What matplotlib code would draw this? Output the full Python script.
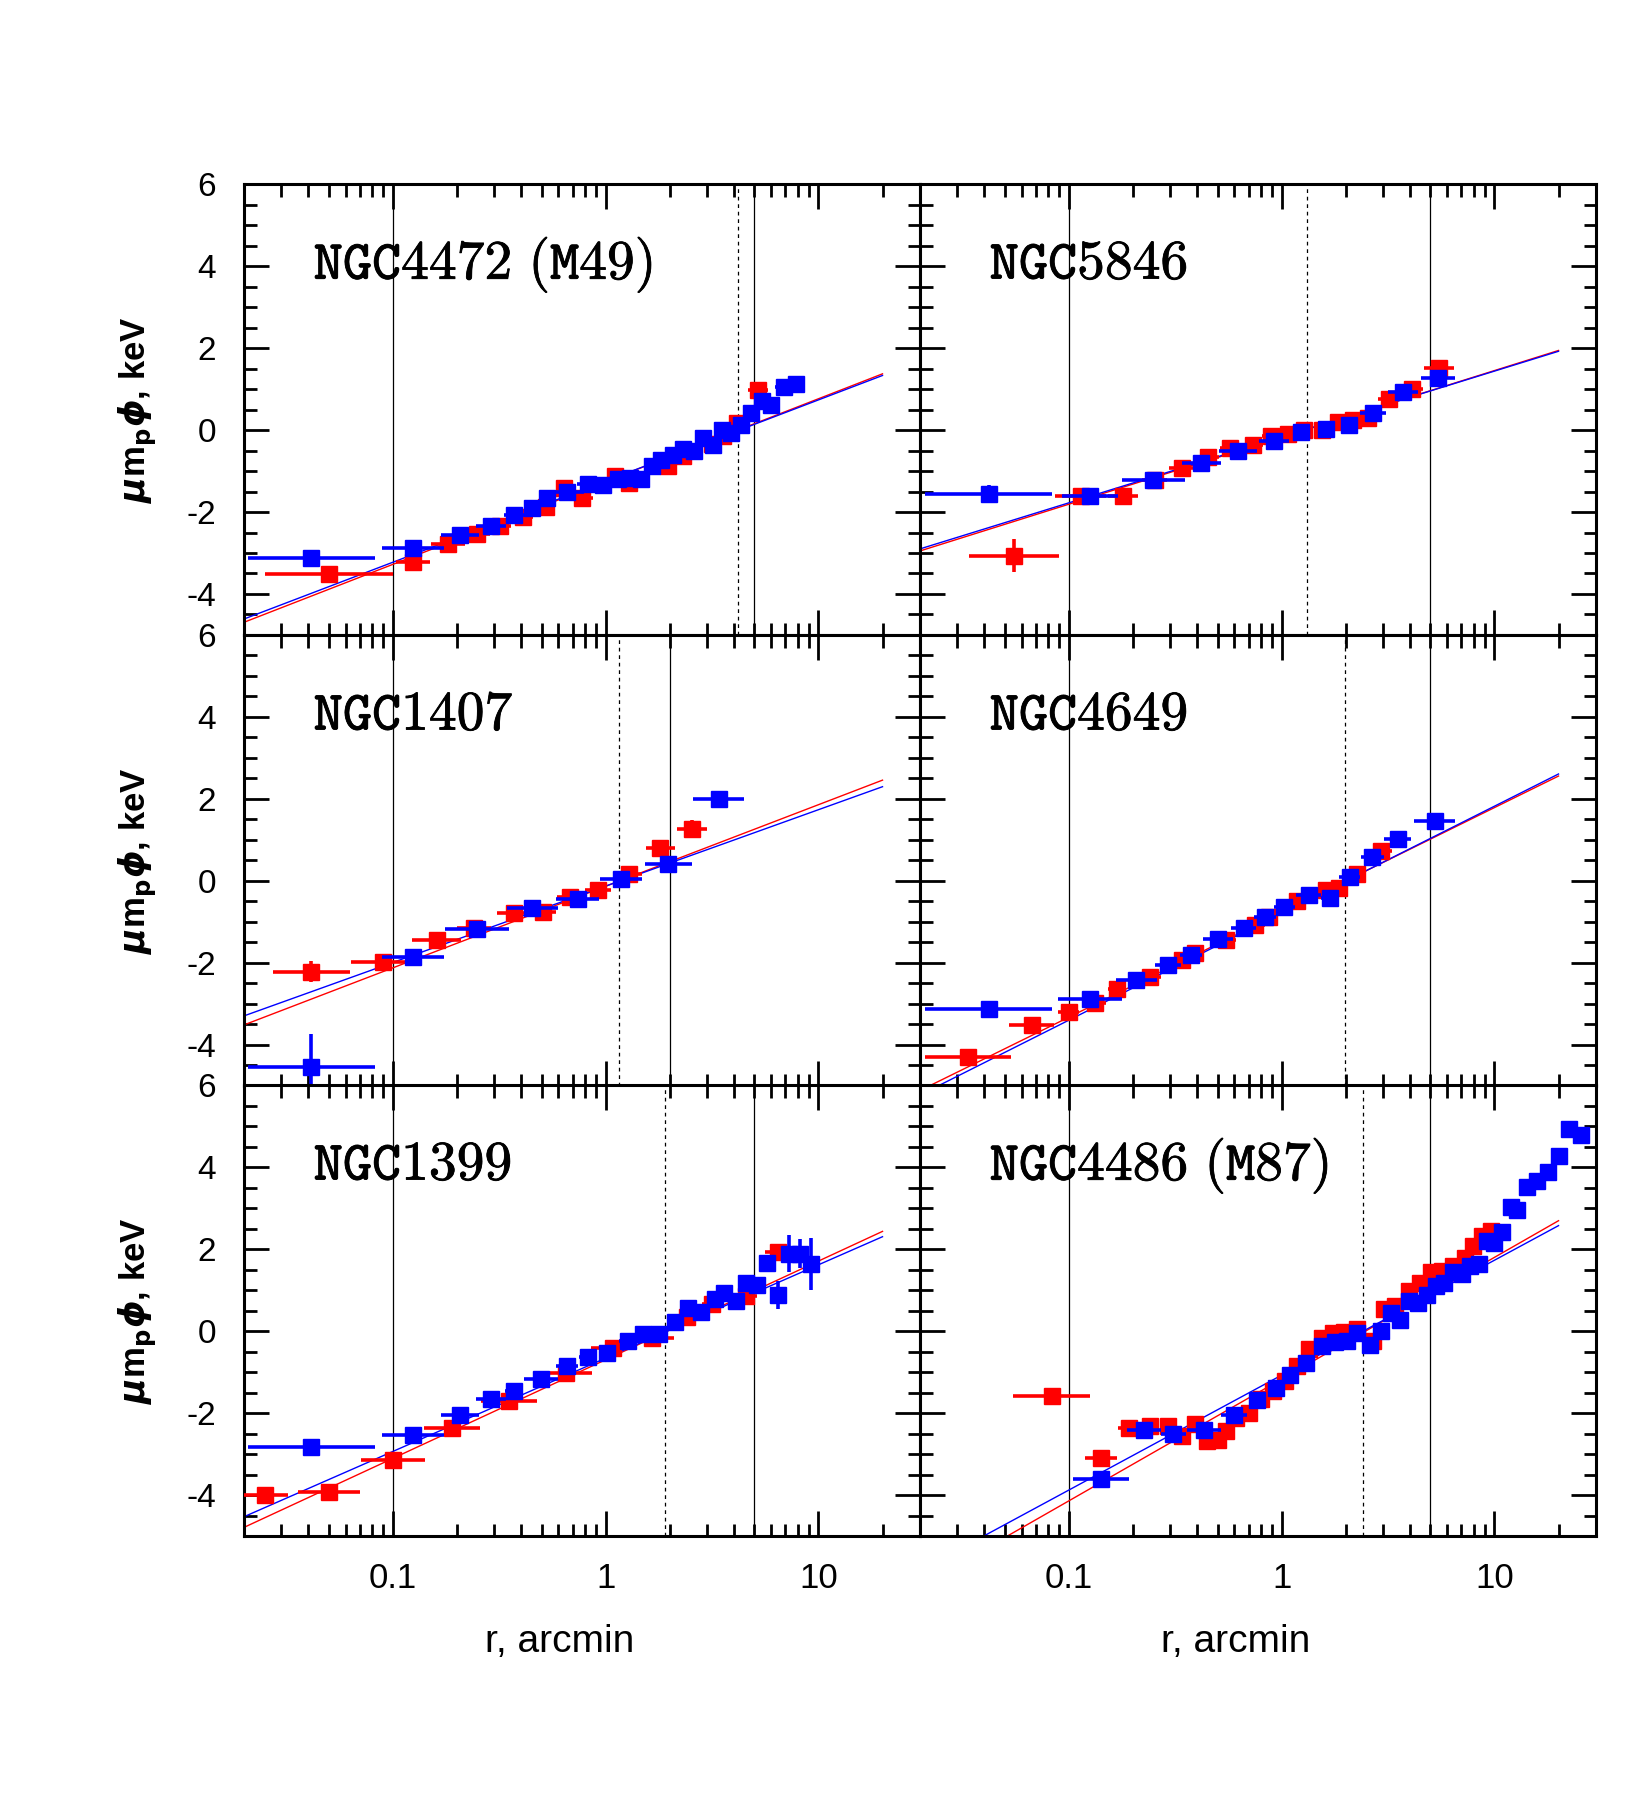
import numpy as np
import matplotlib
matplotlib.use('Agg')
import matplotlib.pyplot as plt
import matplotlib.ticker as ticker
import matplotlib.patheffects as pe

plt.rcParams['font.family'] = ['Liberation Sans', 'DejaVu Sans']
plt.rcParams['axes.unicode_minus'] = False

# ---- datos ----
# r en arcmin, phi en keV, dx = semiancho de la barra en x (dex), dy = barra en y (keV)

# NGC4472 (M49)
m49_b_r = [0.0415, 0.124, 0.207, 0.289, 0.373, 0.453, 0.533, 0.658, 0.826, 0.977, 1.14, 1.30, 1.47, 1.66,
           1.82, 2.08, 2.32, 2.59, 2.88, 3.20, 3.54, 3.90, 4.33, 4.82, 5.41, 6.01, 6.88, 7.83]
m49_b_phi = [-3.13, -2.88, -2.55, -2.33, -2.07, -1.90, -1.66, -1.50, -1.31, -1.33, -1.20, -1.17, -1.20, -0.89,
             -0.72, -0.60, -0.46, -0.52, -0.20, -0.36, 0.01, -0.07, 0.13, 0.41, 0.70, 0.61, 1.05, 1.11]
m49_b_dx = [0.30, 0.146, 0.09, 0.07, 0.05, 0.04, 0.04, 0.08, 0.05, 0.03, 0.03, 0.03, 0.03, 0.03,
            0.03, 0.03, 0.03, 0.03, 0.03, 0.03, 0.03, 0.03, 0.03, 0.03, 0.03, 0.03, 0.04, 0.04]
m49_b_dy = [0.05] * 28
m49_r_r = [0.050, 0.124, 0.182, 0.249, 0.320, 0.407, 0.523, 0.64, 0.778, 1.11, 1.29, 1.96, 2.32, 3.17,
           3.57, 4.13, 5.20]
m49_r_phi = [-3.51, -3.21, -2.78, -2.54, -2.34, -2.11, -1.88, -1.42, -1.66, -1.13, -1.29, -0.89, -0.64, -0.33,
             -0.15, 0.17, 0.97]
m49_r_dx = [0.30, 0.08, 0.08, 0.06, 0.05, 0.05, 0.04, 0.04, 0.05, 0.04, 0.04, 0.04, 0.04, 0.04, 0.03, 0.03, 0.045]
m49_r_dy = [0.05] * 17

# NGC5846
n5846_b_r = [0.042, 0.126, 0.25, 0.42, 0.624, 0.921, 1.24, 1.62, 2.08, 2.69, 3.73, 5.42]
n5846_b_phi = [-1.55, -1.60, -1.23, -0.81, -0.52, -0.28, -0.05, 0.03, 0.11, 0.41, 0.92, 1.27]
n5846_b_dx = [0.30, 0.13, 0.15, 0.09, 0.09, 0.07, 0.04, 0.04, 0.04, 0.06, 0.07, 0.08]
n5846_b_dy = [0.22, 0.05, 0.05, 0.05, 0.05, 0.05, 0.05, 0.05, 0.05, 0.05, 0.05, 0.05]
n5846_r_r = [0.0552, 0.114, 0.18, 0.253, 0.341, 0.451, 0.574, 0.731, 0.887, 1.07, 1.27, 1.55, 1.85, 2.16,
             2.54, 3.19, 4.11, 5.49]
n5846_r_phi = [-3.07, -1.62, -1.60, -1.21, -0.93, -0.66, -0.44, -0.36, -0.15, -0.09, 0.01, 0.01, 0.20, 0.25,
               0.29, 0.76, 1.00, 1.51]
n5846_r_dx = [0.21, 0.12, 0.07, 0.06, 0.06, 0.05, 0.05, 0.05, 0.04, 0.04, 0.04, 0.04, 0.04, 0.04,
              0.04, 0.05, 0.05, 0.07]
n5846_r_dy = [0.40] + [0.05] * 17

# NGC1407
n1407_b_r = [0.0415, 0.124, 0.248, 0.453, 0.738, 1.18, 1.97, 3.40]
n1407_b_phi = [-4.53, -1.85, -1.18, -0.67, -0.44, 0.05, 0.41, 1.99]
n1407_b_dx = [0.30, 0.146, 0.15, 0.12, 0.10, 0.10, 0.11, 0.12]
n1407_b_dy = [0.80, 0.05, 0.05, 0.05, 0.05, 0.05, 0.05, 0.05]
n1407_r_r = [0.0415, 0.090, 0.161, 0.24, 0.373, 0.51, 0.68, 0.92, 1.29, 1.81, 2.55]
n1407_r_phi = [-2.21, -1.97, -1.44, -1.15, -0.79, -0.75, -0.40, -0.22, 0.17, 0.81, 1.28]
n1407_r_dx = [0.18, 0.15, 0.115, 0.08, 0.08, 0.06, 0.06, 0.06, 0.06, 0.07, 0.07]
n1407_r_dy = [0.25, 0.05, 0.05, 0.05, 0.05, 0.05, 0.05, 0.05, 0.05, 0.10, 0.20]

# NGC4649
n4649_b_r = [0.042, 0.126, 0.208, 0.292, 0.375, 0.501, 0.663, 0.836, 1.03, 1.34, 1.68, 2.09, 2.67, 3.51, 5.24]
n4649_b_phi = [-3.11, -2.89, -2.41, -2.05, -1.80, -1.42, -1.15, -0.89, -0.63, -0.34, -0.42, 0.09, 0.58, 1.02, 1.46]
n4649_b_dx = [0.30, 0.15, 0.095, 0.06, 0.05, 0.07, 0.06, 0.05, 0.05, 0.06, 0.04, 0.05, 0.055, 0.063, 0.096]
n4649_b_dy = [0.05] * 15
n4649_r_r = [0.0336, 0.067, 0.1, 0.133, 0.168, 0.241, 0.340, 0.393, 0.547, 0.748, 0.877, 1.18, 1.62, 1.87,
             2.27, 2.94]
n4649_r_phi = [-4.30, -3.51, -3.19, -2.98, -2.63, -2.33, -1.93, -1.75, -1.44, -1.07, -0.87, -0.50, -0.22, -0.18,
               0.17, 0.74]
n4649_r_dx = [0.20, 0.105, 0.05, 0.05, 0.04, 0.05, 0.05, 0.04, 0.05, 0.05, 0.04, 0.04, 0.04, 0.04, 0.04, 0.05]
n4649_r_dy = [0.05] * 16

# NGC1399
n1399_b_r = [0.0415, 0.124, 0.207, 0.289, 0.370, 0.498, 0.658, 0.826, 1.02, 1.27, 1.50, 1.78, 2.11, 2.43,
             2.81, 3.25, 3.61, 4.09, 4.55, 5.15, 5.76, 6.49, 7.28, 8.17, 9.22]
n1399_b_phi = [-2.84, -2.54, -2.06, -1.67, -1.47, -1.18, -0.86, -0.63, -0.53, -0.24, -0.08, -0.07, 0.23, 0.55,
               0.47, 0.79, 0.92, 0.73, 1.18, 1.12, 1.67, 0.88, 1.89, 1.89, 1.63]
n1399_b_dx = [0.30, 0.146, 0.09, 0.07, 0.04, 0.08, 0.05, 0.04, 0.04, 0.04, 0.03, 0.03, 0.03, 0.03,
              0.03, 0.03, 0.03, 0.03, 0.03, 0.03, 0.03, 0.02, 0.02, 0.02, 0.02]
n1399_b_dy = [0.05] * 21 + [0.35, 0.45, 0.35, 0.63]
n1399_r_r = [0.0251, 0.050, 0.1, 0.19, 0.352, 0.649, 1.08, 1.66, 2.41, 3.17, 4.59, 6.43]
n1399_r_phi = [-4.01, -3.92, -3.14, -2.37, -1.70, -1.02, -0.41, -0.16, 0.33, 0.65, 0.86, 1.93]
n1399_r_dx = [0.11, 0.146, 0.15, 0.13, 0.133, 0.123, 0.10, 0.10, 0.05, 0.05, 0.05, 0.06]
n1399_r_dy = [0.05] * 12

# NGC4486 (M87)
m87_b_r = [0.1415, 0.226, 0.31, 0.434, 0.597, 0.767, 0.94, 1.10, 1.30, 1.54, 1.79, 2.02, 2.27, 2.59, 2.94,
           3.27, 3.59, 3.96, 4.36, 4.80, 5.29, 5.82, 6.41, 7.06, 7.71, 8.49, 9.21, 10.0, 10.8, 11.9, 12.8,
           14.2, 15.9, 17.9, 20.0, 22.5, 25.4]
m87_b_phi = [-3.61, -2.41, -2.51, -2.41, -2.04, -1.69, -1.39, -1.08, -0.77, -0.37, -0.27, -0.24, -0.04, -0.35,
             0.00, 0.45, 0.27, 0.73, 0.69, 0.88, 1.10, 1.18, 1.43, 1.39, 1.59, 1.63, 2.20, 2.15, 2.41, 3.02, 2.94,
             3.52, 3.67, 3.87, 4.27, 4.93, 4.79]
m87_b_dx = [0.13, 0.08, 0.06, 0.08, 0.06] + [0.03] * 32
m87_b_dy = [0.05] * 37
m87_r_r = [0.0832, 0.1415, 0.191, 0.241, 0.292, 0.34, 0.39, 0.444, 0.501, 0.547, 0.608, 0.703, 0.797, 0.908,
           1.04, 1.18, 1.34, 1.54, 1.74, 1.97, 2.27, 2.69, 3.04, 3.42, 3.96, 4.47, 5.04, 5.68, 6.41, 7.24,
           7.97, 8.77, 9.66]
m87_r_phi = [-1.59, -3.10, -2.37, -2.31, -2.32, -2.57, -2.28, -2.69, -2.65, -2.45, -2.12, -2.00, -1.67, -1.47,
             -1.22, -0.86, -0.45, -0.16, -0.04, -0.02, 0.04, -0.24, 0.53, 0.61, 0.98, 1.18, 1.43, 1.47, 1.59,
             1.79, 2.08, 2.32, 2.43]
m87_r_dx = [0.18, 0.075, 0.05] + [0.03] * 30
m87_r_dy = [0.05] * 33

# rectas de ajuste: valores en r = 0.02 y r = 20
fit_r = [0.02, 20.0]
fit_m49_b, fit_m49_r = [-4.61, 1.33], [-4.69, 1.37]
fit_5846_b, fit_5846_r = [-2.90, 1.92], [-2.95, 1.94]
fit_1407_b, fit_1407_r = [-3.29, 2.30], [-3.51, 2.46]
fit_4649_b, fit_4649_r = [-5.22, 2.61], [-5.11, 2.56]
fit_1399_b, fit_1399_r = [-4.53, 2.30], [-4.79, 2.43]
fit_m87_b, fit_m87_r = [-5.84, 2.57], [-6.22, 2.69]

# lineas verticales (arcmin)
r_inner = 0.1
dashed_r = [4.2, 1.32, 1.16, 1.98, 1.91, 2.41]
solid_r = [5.0, 5.0, 2.0, 5.0, 5.0, 5.0]

names = ['NGC4472\\ (M49)', 'NGC5846', 'NGC1407', 'NGC4649', 'NGC1399', 'NGC4486\\ (M87)']

panels = [
    (m49_r_r, m49_r_phi, m49_r_dx, m49_r_dy, m49_b_r, m49_b_phi, m49_b_dx, m49_b_dy, fit_m49_r, fit_m49_b),
    (n5846_r_r, n5846_r_phi, n5846_r_dx, n5846_r_dy, n5846_b_r, n5846_b_phi, n5846_b_dx, n5846_b_dy,
     fit_5846_r, fit_5846_b),
    (n1407_r_r, n1407_r_phi, n1407_r_dx, n1407_r_dy, n1407_b_r, n1407_b_phi, n1407_b_dx, n1407_b_dy,
     fit_1407_r, fit_1407_b),
    (n4649_r_r, n4649_r_phi, n4649_r_dx, n4649_r_dy, n4649_b_r, n4649_b_phi, n4649_b_dx, n4649_b_dy,
     fit_4649_r, fit_4649_b),
    (n1399_r_r, n1399_r_phi, n1399_r_dx, n1399_r_dy, n1399_b_r, n1399_b_phi, n1399_b_dx, n1399_b_dy,
     fit_1399_r, fit_1399_b),
    (m87_r_r, m87_r_phi, m87_r_dx, m87_r_dy, m87_b_r, m87_b_phi, m87_b_dx, m87_b_dy, fit_m87_r, fit_m87_b),
]

W, H = 1652, 1813
fig = plt.figure(figsize=(W / 100, H / 100), dpi=100)

col_x = [244, 920]
row_top = [184, 635, 1085]
pw, ph = 676, 451


def barras(r, d):
    r = np.array(r)
    d = np.array(d)
    return [r - r * 10 ** (-d), r * 10 ** d - r]


for i, p in enumerate(panels):
    rr, rphi, rdx, rdy, br, bphi, bdx, bdy, fr, fb = p
    row, col = i // 2, i % 2
    ax = fig.add_axes([col_x[col] / W, 1 - (row_top[row] + ph) / H, pw / W, ph / H])
    ax.set_xscale('log')
    ax.set_xlim(0.02, 30)
    ax.set_ylim(-5, 6)

    # lineas verticales
    ax.axvline(r_inner, color='black', lw=0.9, zorder=1)
    ax.axvline(solid_r[i], color='black', lw=0.9, zorder=1)
    ax.axvline(dashed_r[i], color='black', lw=0.9, ls=(0, (3, 3)), zorder=1)

    # rectas de ajuste
    ax.plot(fit_r, fr, color='red', lw=1.0, zorder=2)
    ax.plot(fit_r, fb, color='blue', lw=1.0, zorder=2)

    # puntos
    ax.errorbar(rr, rphi, xerr=barras(rr, rdx), yerr=rdy, fmt='s', color='red', ms=11,
                mec='red', elinewidth=2.6, capsize=0, zorder=3)
    ax.errorbar(br, bphi, xerr=barras(br, bdx), yerr=bdy, fmt='s', color='blue', ms=11,
                mec='blue', elinewidth=2.6, capsize=0, zorder=4)

    # nombre de la galaxia
    ax.text(0.103, 0.79, r'$\mathtt{' + names[i] + '}$', transform=ax.transAxes,
            fontsize=40, math_fontfamily='cm', va='baseline', ha='left',
            path_effects=[pe.withStroke(linewidth=0.6, foreground='black')])

    # ejes y marcas
    for s in ax.spines.values():
        s.set_linewidth(2.2)
    ax.xaxis.set_major_locator(ticker.LogLocator(base=10))
    ax.xaxis.set_minor_locator(ticker.LogLocator(base=10, subs=np.arange(2, 10), numticks=20))
    ax.xaxis.set_minor_formatter(ticker.NullFormatter())
    ax.xaxis.set_major_formatter(ticker.FuncFormatter(lambda v, pos: '%g' % v))
    ax.yaxis.set_major_locator(ticker.MultipleLocator(2))
    ax.yaxis.set_minor_locator(ticker.MultipleLocator(0.5))
    ax.tick_params(which='both', direction='in', top=True, right=True, width=2.0)
    ax.tick_params(which='major', length=18)
    ax.tick_params(which='minor', length=9)
    ax.tick_params(axis='x', pad=19, labelsize=25)
    ax.tick_params(axis='y', pad=20, labelsize=24)
    if row < 2:
        ax.tick_params(axis='x', labelbottom=False)
    if col == 1:
        ax.tick_params(axis='y', labelleft=False)
    if col == 0:
        fig.text(137 / W, 1 - (row_top[row] + ph / 2) / H,
                 r'$\mathbfit{\mu}$m$_{\mathbf{p}}$$\mathbfit{\phi}$, keV',
                 rotation=90, ha='center', va='center', fontsize=25, fontweight='bold',
                 math_fontfamily='dejavusans')

for cx in [560, 1236]:
    fig.text(cx / W, 1 - 1642 / H, 'r, arcmin', ha='center', va='center', fontsize=28)

plt.savefig('out.png', dpi=100)
